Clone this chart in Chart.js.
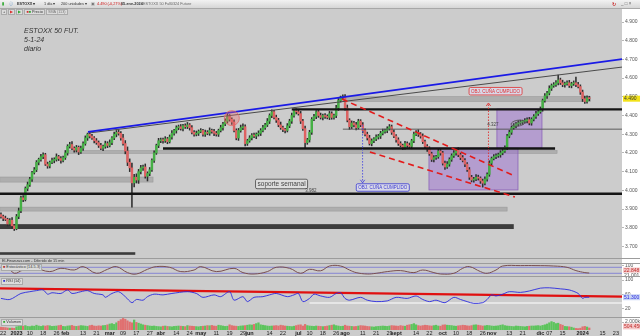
<!DOCTYPE html>
<html>
<head>
<meta charset="utf-8">
<script src="https://cdn.jsdelivr.net/npm/chart.js@4.4.1/dist/chart.umd.min.js"></script>
<style>
  html, body { margin: 0; padding: 0; }
  body { width: 640px; height: 336px; position: relative; overflow: hidden; background: #cccccc;
         font-family: "Liberation Sans", Arial, sans-serif; color: #333; }
  canvas { position: absolute; left: 0; }
  .abs { position: absolute; white-space: nowrap; }
  #toolbar { left: 0; top: 0; width: 640px; height: 8px; background: linear-gradient(#f2f2f2, #d6d6d6); border-bottom: 1px solid #a8a8a8; font-size: 3.8px; line-height: 8px; }
  #axisStrip { left: 622px; top: 9px; width: 18px; height: 327px; background: #fff; }
  .sep { left: 0; width: 640px; height: 1px; background: #9c9c9c; }
  .tag { font-size: 3.8px; line-height: 4.5px; padding: 0 1px; background: #dcdcdc; border: 1px solid #aaa; }
  .note { font-size: 7px; font-style: italic; color: #333; }
</style>
</head>
<body>
<div id="axisStrip" class="abs"></div>
<canvas id="main" width="640" height="250" style="top:8px"></canvas>
<canvas id="stoch" width="640" height="13" style="top:263px"></canvas>
<canvas id="rsi" width="640" height="40" style="top:277px"></canvas>
<canvas id="vol" width="640" height="18" style="top:318px"></canvas>

<div id="toolbar" class="abs">
  <span class="abs" style="left:2px;color:#3a3;font-weight:bold">&#9646;</span>
  <span class="abs" style="left:9px;color:#69c">&#9432;</span>
  <span class="abs" style="left:17px;font-weight:bold">ESTOXX &#9662;</span>
  <span class="abs" style="left:44px">1 día &#9662;</span>
  <span class="abs" style="left:61px">200 unidades &#9662;</span>
  <span class="abs" style="left:91px;color:#777">&#9635;</span>
  <span class="abs" style="left:97px;color:#d01818">4.490 (-0,27%)</span>
  <span class="abs" style="left:121px;font-weight:bold">05-ene-2024</span>
  <span class="abs" style="left:139px;color:#69c">&#9702;</span>
  <span class="abs" style="left:143px;color:#666">ESTOXX 50 Full0324 Future</span>
  <span class="abs" style="left:612px;color:#c33;font-weight:bold;font-size:5px">&#8635;</span>
  <span class="abs" style="left:621px;color:#666;font-size:4.5px">_ &#9633; &#215;</span>
</div>
<div class="abs" style="left:1px;top:10px;font-size:3.8px;line-height:4.5px">
  <span class="tag">+</span>
  <span class="tag" style="color:#d33">&#9654;</span>
  <span class="tag" style="color:#3a3">&#9654;</span>
  <span class="tag"><span style="color:#c33">&#9632;</span><span style="color:#3a3">&#9632;</span> Precio</span>
  <span class="tag" style="color:#777">SMA (113)</span>
</div>
<div class="abs note" style="left:24px;top:27px">ESTOXX 50 FUT.</div>
<div class="abs note" style="left:24px;top:36px">5-1-24</div>
<div class="abs note" style="left:24px;top:45px">diario</div>

<div class="abs sep" style="top:258px"></div>
<div class="abs" style="left:2px;top:258.5px;font-size:3.8px;line-height:4.5px;color:#333">El-Finanzas.com - Diferido de 15 min</div>
<div class="abs sep" style="top:263px"></div>
<div class="abs sep" style="top:276px"></div>
<div class="abs sep" style="top:317px"></div>
<div class="abs tag" style="left:1px;top:264px"><span style="color:#a33">&#9632;</span> Estocástico (14-5-3)</div>
<div class="abs tag" style="left:1px;top:278px"><span style="color:#33c">&#9632;</span> RSI (14)</div>
<div class="abs tag" style="left:1px;top:319px"><span style="color:#3a3">&#9632;</span> Volumen</div>

<script>
// ---- calendario ----
const firstDay = '2022-12-21';
const holidays = ['2022-12-26', '2023-04-07', '2023-04-10', '2023-05-01', '2023-12-25', '2023-12-26', '2024-01-01'];

// ---- velas diarias (cierres, mechas) ----
const firstOpen = 3870;
const closes = [
  3860, 3850, 3845, 3820, 3840, 3810, 3795,
  3860, 3890, 3960, 3950, 4010, 4030, 4060, 4095, 4110, 4150,
  4165, 4180, 4190, 4140, 4130, 4150, 4160, 4165, 4180, 4170,
  4160, 4175, 4200, 4235, 4245, 4225, 4215, 4230, 4205, 4225,
  4250, 4280, 4300, 4290, 4280, 4265, 4255, 4240, 4225, 4235,
  4250, 4240, 4255, 4280, 4300, 4310, 4305, 4280, 4250, 4210,
  4150, 4120, 4040, 4070, 4055, 4100, 4120, 4125, 4075, 4090,
  4110, 4160, 4200, 4240, 4265, 4270, 4265, 4275, 4260, 4285,
  4305, 4320, 4335, 4340, 4330, 4345, 4340, 4350, 4335, 4310,
  4300, 4305, 4315, 4320, 4300, 4310, 4305, 4320, 4315, 4305,
  4300, 4320, 4335, 4355, 4370, 4395, 4380, 4365, 4320, 4280,
  4320, 4335, 4340, 4250, 4265, 4280, 4295, 4290, 4300, 4305,
  4320, 4335, 4350, 4370, 4400, 4420, 4390, 4375, 4350, 4335,
  4325, 4320, 4345, 4370, 4400, 4425, 4420, 4410, 4370, 4330,
  4255, 4270, 4310, 4380, 4395, 4420, 4400, 4390, 4400, 4395,
  4390, 4410, 4390, 4400, 4440, 4480, 4495, 4500, 4440, 4375,
  4340, 4360, 4350, 4335, 4370, 4350, 4320, 4300, 4280, 4250,
  4265, 4275, 4285, 4290, 4305, 4315, 4320, 4330, 4340, 4310,
  4290, 4270, 4250, 4240, 4230, 4250, 4240, 4235, 4265, 4300,
  4310, 4300, 4290, 4260, 4235, 4220, 4195, 4165, 4175, 4180,
  4210, 4200, 4145, 4125, 4140, 4165, 4185, 4200, 4215, 4190,
  4175, 4160, 4140, 4110, 4070, 4055, 4060, 4070, 4065, 4050,
  4038, 4060, 4085, 4145, 4170, 4180, 4185, 4190, 4200, 4210,
  4230, 4290, 4310, 4335, 4345, 4355, 4360, 4365, 4368, 4372,
  4378, 4360, 4380, 4395, 4410, 4420, 4435, 4480, 4505, 4520,
  4545, 4560, 4565, 4575, 4590, 4575, 4565, 4570, 4575, 4560,
  4570, 4575, 4565, 4555, 4525, 4490, 4475, 4495, 4490
];
const wickUp = [
  10, 8, 12, 6, 9, 14, 7, 11, 15, 9, 12, 8, 14, 10, 6, 12, 9, 7, 13, 10,
  8, 11, 6, 12, 9, 15, 7, 10, 8, 13, 9, 12, 16, 8, 10, 7, 12, 9, 11, 6,
  14, 10, 8, 12, 9, 11, 7, 13, 10, 15, 8, 12, 10, 14, 9, 20, 16, 22, 18, 25,
  15, 18, 12, 14, 10, 16, 9, 12, 8, 11, 7, 13, 10, 9, 12, 8, 11, 14, 6, 10,
  9, 12, 8, 10, 13, 7, 11, 9, 12, 8, 10, 6, 12, 9, 14, 8, 11, 10, 7, 13,
  9, 12, 15, 10, 8, 12, 9, 11, 14, 16, 10, 8, 12, 9, 11, 7, 13, 10, 12, 8,
  14, 9, 11, 8, 12, 10, 15, 9, 7, 12, 10, 13, 8, 11, 9, 12, 10, 14, 8, 11,
  9, 12, 7, 10, 13, 8, 11, 9, 12, 10, 8, 14, 11, 9, 10, 12, 16, 8, 11, 9,
  13, 10, 8, 12, 9, 11, 14, 10, 7, 12, 9, 11, 13, 8, 10, 12, 9, 14, 8, 11,
  10, 7, 12, 9, 13, 8, 11, 10, 14, 9, 12, 8, 10, 13, 9, 11, 7, 12, 10, 8,
  11, 14, 9, 10, 12, 8, 13, 9, 11, 10, 8, 12, 10, 9, 14, 11, 7, 10, 12, 9,
  13, 8, 11, 10, 9, 12, 14, 8, 10, 11, 9, 12, 8, 13, 10, 7, 11, 9, 12, 8,
  10, 13, 9, 11, 8, 12, 10, 14, 9, 11, 12, 26, 10, 14, 9, 11, 13, 8, 10, 30,
  12, 9, 11, 14, 10, 8
];
const wickDn = [
  9, 12, 7, 11, 8, 13, 10, 6, 12, 9, 11, 7, 13, 9, 12, 8, 10, 14, 9, 11,
  7, 12, 10, 8, 13, 9, 11, 15, 8, 10, 12, 9, 7, 11, 10, 14, 8, 12, 9, 13,
  10, 8, 12, 9, 11, 7, 13, 10, 12, 8, 11, 9, 14, 10, 12, 8, 15, 18, 20, 130,
  22, 16, 18, 12, 14, 10, 25, 12, 9, 11, 8, 12, 10, 13, 9, 11, 7, 12, 10, 14,
  11, 8, 12, 9, 10, 13, 8, 11, 9, 12, 7, 10, 12, 8, 11, 9, 13, 10, 12, 8,
  14, 9, 11, 10, 12, 8, 10, 13, 9, 11, 12, 10, 8, 11, 9, 14, 10, 12, 8, 10,
  9, 13, 11, 8, 12, 10, 9, 11, 13, 8, 10, 12, 9, 11, 8, 13, 10, 29, 9, 12,
  11, 8, 12, 10, 9, 13, 11, 8, 12, 10, 9, 11, 13, 8, 10, 12, 9, 14, 10, 11,
  12, 8, 10, 13, 9, 11, 8, 12, 10, 9, 11, 13, 9, 10, 12, 8, 11, 9, 13, 10,
  8, 12, 10, 11, 9, 13, 10, 8, 12, 11, 10, 9, 12, 8, 11, 13, 10, 9, 12, 10,
  13, 8, 11, 10, 9, 12, 10, 11, 8, 13, 9, 12, 10, 11, 8, 10, 13, 21, 9, 11,
  10, 12, 8, 11, 9, 13, 10, 8, 12, 9, 11, 9, 12, 10, 8, 13, 9, 11, 10, 12,
  9, 11, 10, 8, 12, 9, 13, 10, 11, 9, 10, 12, 9, 11, 13, 8, 10, 12, 9, 11,
  8, 12, 15, 10, 9, 11
];
// volumen en miles
const volumes = [
  700, 650, 600, 500, 450, 480, 420, 800, 900, 1000,
  950, 1100, 900, 850, 1000, 950, 1200, 1000, 900, 1050,
  980, 1100, 1050, 900, 950, 1000, 1100, 1200, 900, 850,
  1000, 1050, 1150, 950, 900, 1000, 1100, 1050, 980, 900,
  1100, 1200, 1000, 950, 1050, 1000, 1100, 1150, 1300, 1500,
  1600, 1400, 1800, 2200, 2600, 2900, 2700, 2300, 2000, 1800,
  2500, 1900, 1700, 1500, 1300, 1200, 1100, 1000, 950, 1000,
  900, 850, 800, 950, 1000, 900, 850, 800, 900, 950,
  1000, 950, 900, 850, 1100, 1000, 950, 900, 850, 800,
  900, 950, 1000, 1100, 1050, 1150, 1000, 950, 1200, 1100,
  1000, 900, 950, 1300, 1100, 1000, 950, 900, 1000, 1050,
  1100, 1200, 1300, 1250, 1400, 1600, 1800, 1300, 1200, 1100,
  1000, 950, 1000, 1050, 1100, 1000, 1200, 1100, 1000, 950,
  900, 850, 950, 1100, 1250, 1300, 1000, 1400, 1100, 1000,
  950, 900, 1000, 950, 900, 850, 900, 1000, 1100, 1200,
  1300, 1100, 1000, 900, 950, 1200, 1000, 950, 900, 850,
  900, 1000, 1100, 1050, 1000, 900, 850, 800, 750, 850,
  900, 950, 1000, 950, 900, 1000, 1100, 1050, 1000, 950,
  1100, 1000, 950, 1200, 1300, 1400, 1600, 1300, 1100, 1000,
  1100, 1200, 1150, 1050, 1000, 1100, 1200, 1000, 950, 1250,
  1300, 1200, 1150, 1100, 1000, 950, 1050, 1100, 1200, 1150,
  1050, 1000, 1100, 1250, 1300, 1200, 1100, 1000, 1050, 1150,
  1100, 1000, 950, 1000, 1050, 1200, 1300, 1100, 1000, 950,
  900, 850, 1000, 950, 900, 850, 800, 900, 950, 1000,
  1000, 1050, 1100, 1000, 1150, 1300, 1500, 1800, 2100, 1900,
  1600, 1700, 1400, 1200, 900, 850, 800, 700, 500, 400,
  350, 450, 800, 900, 750, 504.45
];

// ---- indicadores (día de sesión, valor) ----
const rsiDays = [-7, -3, 2, 6, 9, 12, 14, 16, 20, 23, 25, 29, 32, 35, 39, 40, 43, 46, 49, 52,
  54, 57, 59, 62, 66, 70, 77, 81, 84, 89, 92, 96, 98, 102, 104, 107, 111, 114, 117, 122,
  125, 127, 129, 132, 134, 137, 141, 144, 146, 148, 150, 155, 158, 162, 167, 171, 176, 180, 183, 186,
  189, 193, 197, 200, 203, 206, 210, 212, 214, 216, 219, 222, 227, 231, 236, 240, 245, 249, 253, 255,
  256, 258];
const rsiVals = [48, 45, 62, 67, 70, 72, 60, 64, 62, 72, 62, 67, 70, 62, 58, 51, 62, 67, 53, 36,
  45, 43, 53, 60, 58, 62, 67, 62, 51, 58, 53, 67, 43, 53, 39, 51, 53, 58, 62, 53,
  58, 62, 39, 48, 60, 55, 51, 62, 64, 48, 43, 51, 43, 39, 41, 51, 48, 55, 45, 39,
  43, 36, 51, 45, 39, 34, 36, 45, 58, 55, 60, 67, 65, 69, 77, 78, 75, 72, 62, 48,
  51, 51.3];
const stochDays = [-7, -4, -1, 3, 8, 15, 20, 26, 30, 36, 41, 45, 50, 54, 59, 63, 69, 74, 80, 83,
  90, 98, 102, 107, 113, 117, 123, 128, 132, 137, 141, 146, 150, 153, 158, 162, 167, 173, 179, 183,
  188, 191, 197, 201, 204, 209, 212, 216, 219, 227, 234, 242, 248, 252, 256, 258];
const stochVals = [53, 80, 20, 53, 70, 37, 70, 53, 87, 20, 60, 87, 27, 13, 60, 87, 80, 37, 53, 87,
  37, 70, 27, 13, 37, 80, 70, 20, 60, 45, 93, 93, 53, 27, 13, 20, 37, 47, 27, 53,
  27, 13, 20, 70, 87, 37, 20, 53, 93, 97, 97, 93, 80, 47, 27, 22.848];
const stochD = 21.001;
const rsiTrend = [-7.43, 76.6, 272.75, 52.8];
const rsiWhite = [132, 35, 272.75];

// ---- ejes ----
const priceTicks = [3700, 3800, 3900, 4000, 4100, 4200, 4300, 4400, 4500, 4600, 4700, 4800, 4900];
const rsiTicks = [20, 40, 60, 80, 100];
const xTickDates = ['2022-12-22', '2023-01-02', '2023-01-10', '2023-01-18', '2023-01-26', '2023-02-01', '2023-02-13', '2023-02-21',
  '2023-03-01', '2023-03-09', '2023-03-17', '2023-03-27', '2023-04-03', '2023-04-14', '2023-04-24', '2023-05-02',
  '2023-05-11', '2023-05-19', '2023-05-29', '2023-06-01', '2023-06-14', '2023-06-22', '2023-07-03', '2023-07-10',
  '2023-07-18', '2023-07-26', '2023-08-01', '2023-08-11', '2023-08-21', '2023-08-29', '2023-09-01', '2023-09-14',
  '2023-09-22', '2023-10-02', '2023-10-10', '2023-10-18', '2023-10-26', '2023-11-01', '2023-11-13', '2023-11-21',
  '2023-12-01', '2023-12-07', '2023-12-15', '2024-01-02', '2024-01-15', '2024-01-23'];
const xTickText = ['22', '2023', '10', '18', '26', 'feb', '13', '21',
  'mar', '09', '17', '27', 'abr', '14', '24', 'may',
  '11', '19', '29', 'jun', '14', '22', 'jul', '10',
  '18', '26', 'ago', '11', '21', '29', 'sept', '14',
  '22', 'oct', '10', '18', '26', 'nov', '13', '21',
  'dic', '07', '15', '2024', '15', '23'];

// ---- dibujos sobre el gráfico (día de sesión, precio) ----
const trendBlue = [32.2, 4312, 272.75, 4702];
const trendGray = [32.2, 4306, 272.75, 4659];
const wedgeUpper = [146.6, 4488, 224.5, 4076];
const wedgeLower = [159.2, 4205, 224.5, 3964];
const levelsBlack = [[3982, -7.5, 272.75], [4224, 66, 242.6], [4433, 124, 272.75]];
const levelsThin = [[4327, 147, 272.75]];
const bandsGray = [[4044, 4071, -7.5, 61.5], [3889, 3910, -7.5, 221], [4198, 4212, 22.7, 243.5], [4475, 4501, 145.7, 258.5]];
const bandsDark = [[3793, 3819, -7.5, 224], [3655, 3669, -7.5, 53.5]];
const boxesPurple = [[185.8, 4226, 225.9, 4002], [216.4, 4435, 236.7, 4226]];
const arrowBlue = [155.9, 4349, 4040];
const arrowRed = [212.6, 4146, 4467];
const notes = [
  { t: 'OBJ. CUÑA CUMPLIDO', i: 215.8, p: 4530, c: '#e03030' },
  { t: 'OBJ. CUÑA CUMPLIDO', i: 165, p: 4015, c: '#3a3ad0' }
];
const supportLabel = { t: 'soporte semanal', i: 119.4, p: 4034 };
const levelTexts = [{ t: '4.327', i: 214.6, p: 4352 }, { t: '3.982', i: 132.6, p: 3998 }];
const circleMark = [97, 4386];
const ellipseMark = [225.9, 4359];

// ---------------------------------------------------------------
const cal = [];
for (let d = new Date(Date.UTC(2022, 11, 19)); d <= new Date(Date.UTC(2024, 1, 2)); d.setUTCDate(d.getUTCDate() + 1)) {
  const s = d.toISOString().slice(0, 10);
  const wd = d.getUTCDay();
  if (wd === 0 || wd === 6 || holidays.includes(s)) continue;
  cal.push(s);
}
const base = cal.indexOf('2023-01-02');
const dayIdx = s => cal.indexOf(s) - base;
const start = dayIdx(firstDay);
const X_MIN = -7.43, X_MAX = 272.75;
const FONT = 'Liberation Sans';

const opens = closes.map((c, k) => (k ? closes[k - 1] : firstOpen));
const highs = closes.map((c, k) => Math.max(opens[k], c) + wickUp[k]);
const lows = closes.map((c, k) => Math.min(opens[k], c) - wickDn[k]);
const up = closes.map((c, k) => c >= opens[k]);

const fmt3 = v => (v / 1000).toFixed(3);

function rightAxis(min, max, ticks, cb, extra) {
  return Object.assign({
    type: 'linear', position: 'right', min, max,
    afterBuildTicks: s => { s.ticks = ticks.map(v => ({ value: v })); },
    afterFit: s => { s.width = 18; s.paddingTop = 0; s.paddingBottom = 0; },
    border: { display: false },
    grid: { drawOnChartArea: false, drawTicks: true, tickLength: 2, tickColor: '#888', tickWidth: 0.6 },
    ticks: { font: { size: 5, family: FONT }, color: '#555', padding: 1, callback: cb }
  }, extra || {});
}
const hiddenX = { type: 'linear', min: X_MIN, max: X_MAX, offset: false, display: false };

function baseOptions(scales) {
  return {
    responsive: false, animation: false, events: [],
    layout: { padding: 0 },
    plugins: { legend: { display: false }, tooltip: { enabled: false } },
    scales
  };
}

function badge(chart, value, text, bg, fg, dy) {
  const { ctx } = chart;
  const y = chart.scales.y.getPixelForValue(value) + (dy || 0);
  ctx.save();
  ctx.font = '5px ' + FONT;
  ctx.fillStyle = bg;
  ctx.fillRect(623, y - 3, 17, 6);
  ctx.fillStyle = fg;
  ctx.textBaseline = 'middle';
  ctx.fillText(text, 624, y + 0.3);
  ctx.restore();
}

function seg(ctx, x, y, a, color, width, dash) {
  ctx.save();
  ctx.strokeStyle = color; ctx.lineWidth = width; ctx.setLineDash(dash || []);
  ctx.beginPath();
  ctx.moveTo(x.getPixelForValue(a[0]), y.getPixelForValue(a[1]));
  ctx.lineTo(x.getPixelForValue(a[2]), y.getPixelForValue(a[3]));
  ctx.stroke();
  ctx.restore();
}

function labelBox(ctx, cx, cy, text, color, fill, size) {
  ctx.save();
  ctx.font = size + 'px ' + FONT;
  const w = ctx.measureText(text).width + 4, h = size + 3;
  ctx.fillStyle = fill;
  ctx.strokeStyle = color;
  ctx.lineWidth = 0.8;
  ctx.beginPath();
  ctx.roundRect(cx - w / 2, cy - h / 2, w, h, 1.5);
  ctx.fill(); ctx.stroke();
  ctx.fillStyle = color;
  ctx.textAlign = 'center'; ctx.textBaseline = 'middle';
  ctx.fillText(text, cx, cy + 0.5);
  ctx.restore();
}

const mainDrawings = {
  id: 'mainDrawings',
  beforeDatasetsDraw(chart) {
    const { ctx, chartArea: a } = chart;
    const x = chart.scales.x, y = chart.scales.y;
    ctx.save();
    ctx.beginPath(); ctx.rect(a.left, a.top, a.width, a.height); ctx.clip();
    bandsGray.forEach(([lo, hi, i1, i2]) => {
      const x1 = x.getPixelForValue(i1), x2 = x.getPixelForValue(i2);
      const y1 = y.getPixelForValue(hi), y2 = y.getPixelForValue(lo);
      ctx.fillStyle = 'rgba(150,150,150,0.55)';
      ctx.fillRect(x1, y1, x2 - x1, y2 - y1);
      ctx.strokeStyle = '#9a9a9a'; ctx.lineWidth = 0.6;
      ctx.strokeRect(x1, y1, x2 - x1, y2 - y1);
    });
    bandsDark.forEach(([lo, hi, i1, i2]) => {
      const x1 = x.getPixelForValue(i1), x2 = x.getPixelForValue(i2);
      const y1 = y.getPixelForValue(hi), y2 = y.getPixelForValue(lo);
      ctx.fillStyle = '#3c3c3c';
      ctx.fillRect(x1, y1, x2 - x1, y2 - y1);
    });
    boxesPurple.forEach(([i1, p1, i2, p2]) => {
      const x1 = x.getPixelForValue(i1), x2 = x.getPixelForValue(i2);
      const y1 = y.getPixelForValue(p1), y2 = y.getPixelForValue(p2);
      ctx.fillStyle = 'rgba(150,100,210,0.45)';
      ctx.fillRect(x1, y1, x2 - x1, y2 - y1);
      ctx.strokeStyle = '#8a62b8'; ctx.lineWidth = 0.8;
      ctx.strokeRect(x1, y1, x2 - x1, y2 - y1);
    });
    ctx.restore();
  },
  afterDatasetsDraw(chart) {
    const { ctx, chartArea: a } = chart;
    const x = chart.scales.x, y = chart.scales.y;
    ctx.save();
    ctx.beginPath(); ctx.rect(a.left, a.top, a.width, a.height); ctx.clip();
    levelsBlack.forEach(([p, i1, i2]) => seg(ctx, x, y, [i1, p, i2, p], '#141414', 2.4));
    levelsThin.forEach(([p, i1, i2]) => seg(ctx, x, y, [i1, p, i2, p], '#505050', 0.9));
    seg(ctx, x, y, trendGray, '#4a4a4a', 1);
    seg(ctx, x, y, trendBlue, '#1a1ae6', 1.8);
    seg(ctx, x, y, wedgeUpper, '#e31c1c', 1.6, [6, 4]);
    seg(ctx, x, y, wedgeLower, '#e31c1c', 1.6, [6, 4]);

    [[arrowBlue, '#4a4ae0'], [arrowRed, '#e03030']].forEach(([ar, col]) => {
      const px = x.getPixelForValue(ar[0]);
      const y1 = y.getPixelForValue(ar[1]), y2 = y.getPixelForValue(ar[2]);
      ctx.save();
      ctx.strokeStyle = col; ctx.lineWidth = 0.9; ctx.setLineDash([1.5, 1.5]);
      ctx.beginPath(); ctx.moveTo(px, y1); ctx.lineTo(px, y2); ctx.stroke();
      ctx.setLineDash([]);
      const d = y2 > y1 ? -1 : 1;
      ctx.beginPath();
      ctx.moveTo(px - 2.2, y2 + d * 3); ctx.lineTo(px, y2); ctx.lineTo(px + 2.2, y2 + d * 3);
      ctx.stroke();
      ctx.restore();
    });

    // circulo y elipse
    ctx.save();
    ctx.fillStyle = 'rgba(240,110,110,0.35)'; ctx.strokeStyle = '#e06a6a'; ctx.lineWidth = 0.8;
    ctx.beginPath();
    ctx.arc(x.getPixelForValue(circleMark[0]), y.getPixelForValue(circleMark[1]), 7.5, 0, Math.PI * 2);
    ctx.fill(); ctx.stroke();
    ctx.strokeStyle = '#555'; ctx.fillStyle = 'rgba(120,120,120,0.25)';
    ctx.beginPath();
    ctx.ellipse(x.getPixelForValue(ellipseMark[0]), y.getPixelForValue(ellipseMark[1]), 7, 3, -0.15, 0, Math.PI * 2);
    ctx.fill(); ctx.stroke();
    ctx.restore();

    notes.forEach(n => labelBox(ctx, x.getPixelForValue(n.i), y.getPixelForValue(n.p), n.t, n.c, '#d8d8e8', 4.5));
    labelBox(ctx, x.getPixelForValue(supportLabel.i), y.getPixelForValue(supportLabel.p), supportLabel.t, '#444', '#dedede', 6.5);

    ctx.font = '4.5px ' + FONT; ctx.fillStyle = '#444'; ctx.textAlign = 'center'; ctx.textBaseline = 'middle';
    levelTexts.forEach(l => ctx.fillText(l.t, x.getPixelForValue(l.i), y.getPixelForValue(l.p)));
    ctx.restore();
  },
  afterDraw(chart) {
    badge(chart, closes[closes.length - 1], fmt3(closes[closes.length - 1]), '#f2e21a', '#333');
  }
};

// ---- grafico principal ----
const wickData = closes.map((c, k) => ({ x: start + k, y: [lows[k], highs[k]] }));
const bodyData = closes.map((c, k) => ({ x: start + k, y: [opens[k], c] }));

new Chart(document.getElementById('main'), {
  type: 'bar',
  data: {
    datasets: [
      { data: bodyData, order: 0, grouped: false, barThickness: 1.8, minBarLength: 1,
        backgroundColor: up.map(u => (u ? '#45b045' : '#de6262')) },
      { data: wickData, order: 1, grouped: false, barThickness: 0.9, backgroundColor: '#2e2e2e' }
    ]
  },
  options: baseOptions({ x: hiddenX, y: rightAxis(3638, 4975, priceTicks, v => fmt3(v)) }),
  plugins: [mainDrawings]
});

// ---- estocastico ----
new Chart(document.getElementById('stoch'), {
  type: 'line',
  data: { datasets: [{
    data: stochDays.map((d, k) => ({ x: d, y: stochVals[k] })),
    borderColor: '#7a4f4f', borderWidth: 1, pointRadius: 0, tension: 0.4
  }] },
  options: baseOptions({ x: hiddenX, y: rightAxis(-7, 123, [100], v => String(v)) }),
  plugins: [{
    id: 'stochLines',
    beforeDatasetsDraw(chart) {
      const { ctx } = chart; const x = chart.scales.x, y = chart.scales.y;
      seg(ctx, x, y, [X_MIN, 80, X_MAX, 80], '#7474d6', 0.8);
      seg(ctx, x, y, [X_MIN, 20, X_MAX, 20], '#7474d6', 0.8);
    },
    afterDraw(chart) {
      badge(chart, stochVals[stochVals.length - 1], '22.848', '#f4c8c8', '#c03030', -2.5);
      badge(chart, stochD, '21.001', '#ffffff', '#444', 2.5);
    }
  }]
});

// ---- RSI ----
new Chart(document.getElementById('rsi'), {
  type: 'line',
  data: { datasets: [{
    data: rsiDays.map((d, k) => ({ x: d, y: rsiVals[k] })),
    borderColor: '#2a2ae0', borderWidth: 0.9, pointRadius: 0, tension: 0.3
  }] },
  options: baseOptions({ x: hiddenX, y: rightAxis(-4.5, 108.5, rsiTicks, v => String(v)) }),
  plugins: [{
    id: 'rsiLines',
    beforeDatasetsDraw(chart) {
      const { ctx } = chart; const x = chart.scales.x, y = chart.scales.y;
      seg(ctx, x, y, [rsiWhite[0], rsiWhite[1], rsiWhite[2], rsiWhite[1]], '#ffffff', 1.2);
      seg(ctx, x, y, rsiTrend, '#e01010', 2.2);
    },
    afterDraw(chart) {
      badge(chart, rsiVals[rsiVals.length - 1], '51.300', '#c8d4f4', '#2a2ae0');
    }
  }]
});

// ---- volumen + eje de fechas ----
const tickIdx = xTickDates.map(dayIdx);
new Chart(document.getElementById('vol'), {
  type: 'bar',
  data: { datasets: [{
    data: volumes.map((v, k) => ({ x: start + k, y: v })),
    barThickness: 1.6, grouped: false,
    backgroundColor: up.map(u => (u ? '#5cc45c' : '#e07070'))
  }] },
  options: baseOptions({
    x: {
      type: 'linear', min: X_MIN, max: X_MAX, offset: false, position: 'bottom',
      afterBuildTicks: s => { s.ticks = tickIdx.map(v => ({ value: v })); },
      afterFit: s => { s.height = 6; s.paddingLeft = 0; s.paddingRight = 0; },
      border: { display: false },
      grid: { display: false, drawTicks: false },
      ticks: {
        autoSkip: false, maxRotation: 0, padding: 0, color: '#222',
        font: ctx => ({ size: 5.5, family: FONT, weight: /^\d{1,2}$/.test(xTickText[ctx.index] || '') ? 'normal' : 'bold' }),
        callback: (v, k) => xTickText[k]
      }
    },
    y: rightAxis(0, 3000, [2000], v => fmt3(v) + 'k')
  }),
  plugins: [{
    id: 'volBadge',
    afterDraw(chart) {
      badge(chart, 900, '504.450', '#f4c8c8', '#c03030');
    }
  }]
});
</script>
</body>
</html>
